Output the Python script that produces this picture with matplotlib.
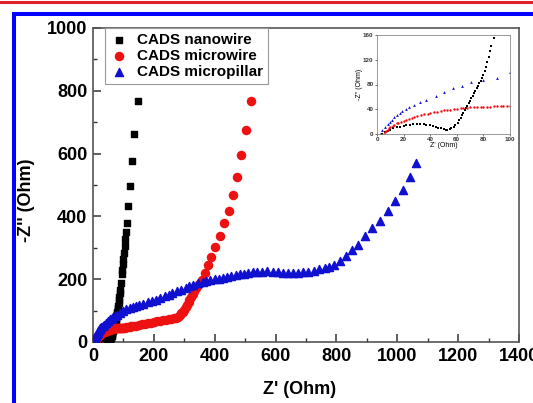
import numpy as np
import matplotlib
matplotlib.use("Agg")
import matplotlib.pyplot as plt
from matplotlib.patches import Rectangle
from matplotlib.lines import Line2D
from matplotlib.ticker import MultipleLocator

plt.rcParams['font.family'] = ['Liberation Sans', 'DejaVu Sans']
plt.rcParams['font.weight'] = 'bold'

# Nyquist data: Z' (Ohm), -Z'' (Ohm)
nano_x = [4, 6, 8, 10, 12, 15, 17, 20, 22, 25, 27, 30, 32, 35, 37, 40, 42, 44, 46, 48,
          50, 52, 53, 55, 56, 58, 59, 61, 62, 63, 64, 65, 66, 67, 68, 69, 70, 71, 72, 73,
          74, 75, 76, 77, 78, 79, 80, 81, 82, 83, 84, 85, 86, 88, 89, 91, 94, 96, 98, 100,
          102, 104, 106, 108, 111, 116, 121, 128, 136, 147]
nano_y = [0, 3, 5, 7, 9, 11, 12, 13.5, 14.5, 15, 15.5, 16, 16, 15.5, 15, 14, 13, 12, 10.5, 9.5,
          8, 7, 7, 8, 9, 11.5, 14, 18, 22, 26, 30, 34, 38, 42, 46, 50, 54, 58, 62, 66,
          70, 74, 78, 82, 86, 91, 96, 102, 108, 116, 125, 134, 143, 155, 166, 188, 215, 230, 247, 265,
          285, 305, 328, 350, 378, 433, 497, 576, 663, 766]

micro_x = [5, 6, 7, 8, 9, 10, 12, 13, 15, 16, 18, 20, 22, 24, 26, 28, 30, 33, 35, 38,
           40, 43, 45, 48, 50, 53, 55, 58, 60, 63, 65, 68, 70, 73, 75, 78, 80, 83, 85, 88,
           90, 93, 95, 98, 100, 105, 110, 115, 120, 125, 130, 140, 150, 160, 170, 180, 190, 200, 210, 220,
           230, 240, 250, 256, 265, 272, 278, 285, 290, 295, 300, 305, 310, 314, 317, 322, 328, 333, 339, 345,
           350, 359, 367, 378, 389, 402, 417, 432, 446, 459, 473, 487, 502, 518]
micro_y = [0, 3, 5, 7, 9, 11, 13, 15, 17, 18.5, 20, 21.5, 23, 24.5, 26, 27.5, 29, 30.5, 32, 33,
           34, 35, 36, 37, 38, 39, 39.5, 40.5, 41, 41.5, 42, 42.5, 43, 43, 43.5, 43.5, 44, 44, 44, 44.5,
           44.5, 45, 45, 45, 45, 46, 47, 48, 49, 50, 51, 52, 54, 56, 58, 60, 62, 65, 67, 68,
           70, 71, 72, 73, 76, 78, 81, 86, 91, 96, 102, 110, 118, 126, 134, 143, 152, 162, 172, 181,
           189, 199, 220, 245, 271, 302, 339, 378, 418, 468, 527, 597, 676, 766]

pillar_x = [2.5, 4, 6, 8, 9.6, 11, 13, 15, 17, 19, 21.7, 24, 27.7, 32, 37, 44, 50, 57, 64, 71,
            80, 90, 100, 110, 120, 130, 140, 150, 165, 180, 195, 206, 220, 235, 250, 261, 275, 290, 305, 317,
            330, 345, 360, 372, 385, 400, 415, 428, 440, 455, 470, 483, 497, 510, 525, 539, 555, 572, 590, 608,
            625, 641, 658, 675, 690, 708, 725, 743, 763, 777, 791, 813, 830, 850, 872, 894, 918, 944, 968, 993,
            1018, 1042, 1062]
pillar_y = [0, 6, 12, 16, 20, 23, 27, 30, 34, 37, 40, 43, 47, 51, 55, 62, 68, 74, 78, 84,
            87, 91, 100, 104, 108, 111, 115, 118, 122, 126, 131, 134, 139, 145, 151, 156, 161, 167, 172, 177,
            182, 187, 191, 194, 197, 200, 202, 204, 207, 210, 213, 215, 218, 220, 222, 223, 224, 226, 224, 222,
            221, 221, 221, 221, 222, 224, 227, 231, 235, 240, 245, 258, 274, 293, 309, 338, 362, 386, 417, 449,
            484, 526, 570]

labels = ['CADS nanowire', 'CADS microwire', 'CADS micropillar']

W, H = 533, 403
fig = plt.figure(figsize=(W / 100, H / 100), dpi=100)

# frame decorations of the page
fig.add_artist(Line2D([0, 1], [1 - 1.5 / H, 1 - 1.5 / H], transform=fig.transFigure,
                      color='#e0202a', lw=2.2))
fig.add_artist(Rectangle((14 / W, -0.05), 1.1, (H - 14) / H + 0.05, transform=fig.transFigure,
                         facecolor='none', edgecolor='#0000ff', lw=2.9))

ax = fig.add_axes([93 / W, 61 / H, 426 / W, 314 / H])
ax.scatter(nano_x, nano_y, marker='s', s=22, color='black', label=labels[0], zorder=3)
ax.scatter(micro_x, micro_y, marker='o', s=34, color='#ee1111', label=labels[1], zorder=3)
ax.scatter(pillar_x, pillar_y, marker='^', s=34, color='#1010d0', label=labels[2], zorder=3)
ax.set_xlim(0, 1400)
ax.set_ylim(0, 1000)
ax.xaxis.set_major_locator(MultipleLocator(200))
ax.xaxis.set_minor_locator(MultipleLocator(100))
ax.yaxis.set_major_locator(MultipleLocator(200))
ax.yaxis.set_minor_locator(MultipleLocator(100))
ax.tick_params(which='both', direction='in', top=False, right=False, color='#333')
ax.tick_params(which='major', length=6, width=1.1, labelsize=13, pad=4)
ax.tick_params(which='minor', length=3, width=1)
for sp in ax.spines.values():
    sp.set_color('#555')
    sp.set_linewidth(1.2)
ax.set_xlabel("Z' (Ohm)", fontsize=13, fontweight='bold')
ax.set_ylabel("-Z'' (Ohm)", fontsize=13, fontweight='bold')
ax.xaxis.set_label_coords(0.485, -0.125)
ax.yaxis.set_label_coords(-0.135, 0.45)

leg = ax.legend(loc='upper left', bbox_to_anchor=(0.028, 1.0), borderaxespad=0,
                fancybox=False, framealpha=1, edgecolor='#999', fontsize=11,
                handletextpad=0.6, handlelength=1.2, labelspacing=0.15,
                borderpad=0.3, scatterpoints=1)
leg.get_frame().set_linewidth(0.8)

# inset: zoom of the high-frequency region
ins = fig.add_axes([377 / W, (H - 134) / H, 133 / W, 99 / H])
ins.scatter(nano_x, nano_y, marker='s', s=2, color='black', lw=0)
ins.scatter(micro_x, micro_y, marker='o', s=3, color='#ee1111', lw=0)
ins.scatter(pillar_x, pillar_y, marker='^', s=4, color='#1010d0', lw=0)
ins.set_xlim(0, 100)
ins.set_ylim(0, 160)
ins.set_xticks([0, 20, 40, 60, 80, 100])
ins.set_yticks([0, 40, 80, 120, 160])
ins.tick_params(labelsize=4.5, length=1.5, width=0.5, pad=1, colors='#333')
for sp in ins.spines.values():
    sp.set_color('#888')
    sp.set_linewidth(0.6)
ins.set_xlabel("Z' (Ohm)", fontsize=5, labelpad=0)
ins.set_ylabel("-Z'' (Ohm)", fontsize=5, labelpad=0)

fig.savefig('out.png', dpi=100)
